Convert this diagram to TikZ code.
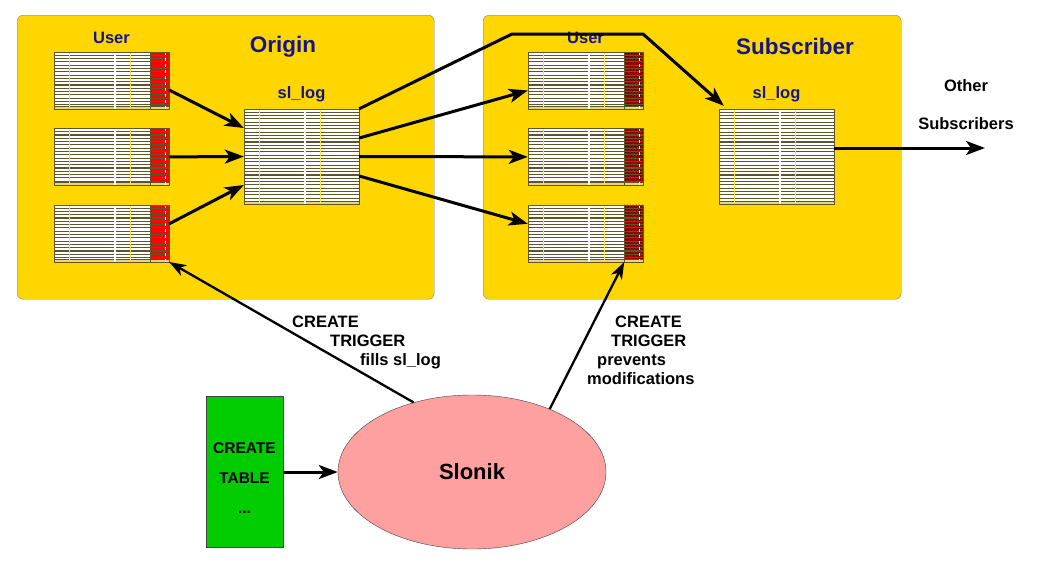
\documentclass[tikz,border=0pt]{standalone}
\usepackage{fontspec}
\setmainfont{Liberation Sans}
\usepackage{xcolor}
\usetikzlibrary{arrows.meta,shapes.geometric,patterns,positioning}

\definecolor{gold}{RGB}{255,214,0}
\definecolor{navy}{RGB}{20,20,140}
\definecolor{tblframe}{RGB}{95,85,45}
\definecolor{tblstrip}{RGB}{235,215,110}
\definecolor{tblline}{RGB}{255,225,80}
\definecolor{darkred}{RGB}{170,0,0}
\definecolor{leafgreen}{RGB}{0,204,0}
\definecolor{slonikpink}{RGB}{255,160,160}

\begin{document}
\begin{tikzpicture}[x=1pt,y=-1pt]
\tikzset{every node/.style={font=\bfseries\fontsize{16.5}{19}\selectfont}}
\tikzset{site/.style={draw=gray,fill=gold,rounded corners=6pt,anchor=north west,inner sep=0pt}}
\tikzset{title/.style={text=navy,font=\bfseries\fontsize{22.5}{26}\selectfont}}
\tikzset{tname/.style={text=navy,inner sep=1pt}}
\tikzset{col/.store in=\tblcol,col=,colpat/.store in=\tblpat,colpat=,tblrows/.store in=\tblrows,tblrows=16}
\tikzset{tbl/.style={draw=tblframe,fill=white,minimum width=115pt,minimum height=57pt,inner sep=0pt,
  path picture={
    \ifx\tblcol\empty\else
      \fill[\tblcol] ([xshift=-19pt]path picture bounding box.north east) rectangle (path picture bounding box.south east);
    \fi
    \ifx\tblpat\empty\else
      \fill[pattern=crosshatch dots,pattern color=\tblpat] ([xshift=-19pt]path picture bounding box.north east) rectangle (path picture bounding box.south east);
    \fi
    \foreach \r in {1,...,\tblrows}
      \draw[line width=1.1pt] ([yshift=-\r*3.3pt]path picture bounding box.north west) -- ([yshift=-\r*3.3pt]path picture bounding box.north east);
    \fill[tblstrip] ([yshift=3pt]path picture bounding box.south west) rectangle (path picture bounding box.south east);
    \draw[tblframe,line width=0.6pt] ([yshift=3pt]path picture bounding box.south west) -- ([yshift=3pt]path picture bounding box.south east);
    \draw[tblline,line width=0.5pt] ([xshift=15pt]path picture bounding box.north west) -- ([xshift=15pt]path picture bounding box.south west);
    \draw[white,line width=1.4pt] ([xshift=61pt]path picture bounding box.north west) -- ([xshift=61pt]path picture bounding box.south west);
    \draw[tblline,line width=0.5pt] ([xshift=76pt]path picture bounding box.north west) -- ([xshift=76pt]path picture bounding box.south west);
    \ifx\tblcol\empty\else
      \draw[white,line width=0.5pt,dashed] ([xshift=-4pt]path picture bounding box.north east) -- ([xshift=-4pt]path picture bounding box.south east);
      \draw[tblframe,line width=0.8pt] ([xshift=-19pt]path picture bounding box.north east) -- ([xshift=-19pt]path picture bounding box.south east);
    \fi
  }}}
\tikzset{logtbl/.style={tbl,minimum height=95pt,tblrows=27}}
\tikzset{flow/.style={-{Stealth[length=19pt,width=14pt,inset=5pt]},line width=3pt}}
\tikzset{trig/.style={-{Stealth[length=17pt,width=12pt,inset=5pt]},line width=2.3pt}}

\useasboundingbox (0,0) rectangle (1040,562);

% the two sites
\node[site,minimum width=417pt,minimum height=284pt] (origin) at (17,15) {};
\node[site,minimum width=418pt,minimum height=284pt] (subscr) at (483,15) {};
\node[title] (otitle) at (283,47) {Origin};
\node[title] (stitle) at (795,46) {Subscriber};

% origin tables
\node[tbl,col=red] (ou1) at (111.5,80.5) {};
\node[tbl,col=red,below=19pt of ou1] (ou2) {};
\node[tbl,col=red,below=19pt of ou2] (ou3) {};
\node[logtbl] (olog) at (301.5,156.5) {};
\node[tname,above=7pt of ou1] (ouser) {User};
\node[tname,above=6pt of olog] (ologname) {sl\_log};

% subscriber tables
\node[tbl,col=darkred,colpat=black] (su1) at (585.5,80.5) {};
\node[tbl,col=darkred,colpat=black,below=19pt of su1] (su2) {};
\node[tbl,col=darkred,colpat=black,below=19pt of su2] (su3) {};
\node[logtbl] (slog) at (776.5,156.5) {};
\node[tname,above=7pt of su1] (suser) {User};
\node[tname,above=6pt of slog] (slogname) {sl\_log};

% bottom
\node[draw=darkgray,fill=leafgreen,minimum width=77pt,minimum height=151pt,align=center,
  font=\bfseries\fontsize{15.5}{30}\selectfont] (create) at (244.5,472) {\rule{0pt}{23pt}CREATE\\TABLE\\...};
\node[ellipse,draw=darkgray,fill=slonikpink,minimum width=268pt,minimum height=154pt,
  font=\bfseries\fontsize{22}{26}\selectfont] (slonik) at (472,472) {Slonik};

\node[align=left,anchor=north west,inner sep=0pt] (fillnote) at (292,316)
  {CREATE\\\hspace*{38pt}TRIGGER\\\hspace*{68pt}fills sl\_log};
\node[align=left,anchor=north west,inner sep=0pt] (lockNote) at (587,316)
  {\hspace*{28pt}CREATE\\\hspace*{24pt}TRIGGER\\\hspace*{10pt}prevents\\modifications};
\node[align=center,font=\bfseries\fontsize{16.5}{38}\selectfont] (other) at (966,105) {Other\\Subscribers};

\coordinate (bendA) at (512,34);
\coordinate (bendB) at (643,34);
\coordinate (away) at (985,148);

% into sl_log
\draw[flow] ([yshift=-9.5pt]ou1.east) -- ([yshift=28.5pt]olog.west);
\draw[flow] (ou2.east) -- (olog.west);
\draw[flow] ([yshift=9.5pt]ou3.east) -- ([yshift=-28.5pt]olog.west);

% replication
\draw[flow] ([yshift=18.5pt]olog.east) -- ([yshift=-10pt]su1.west);
\draw[flow] (olog.east) -- (su2.west);
\draw[flow] ([yshift=-19.5pt]olog.east) -- ([yshift=9.5pt]su3.west);
\draw[flow] (olog.north east) -- (bendA) -- (bendB) -- ([xshift=5pt,yshift=3pt]slog.north west);
\draw[flow] ([yshift=8.5pt]slog.east) -- (away);

% triggers
\draw[flow] (create.east) -- (slonik.west);
\draw[trig] (slonik.130) -- (ou3.south east);
\draw[trig] (slonik.39) -- ([xshift=-19pt]su3.south east);

\end{tikzpicture}
\end{document}
